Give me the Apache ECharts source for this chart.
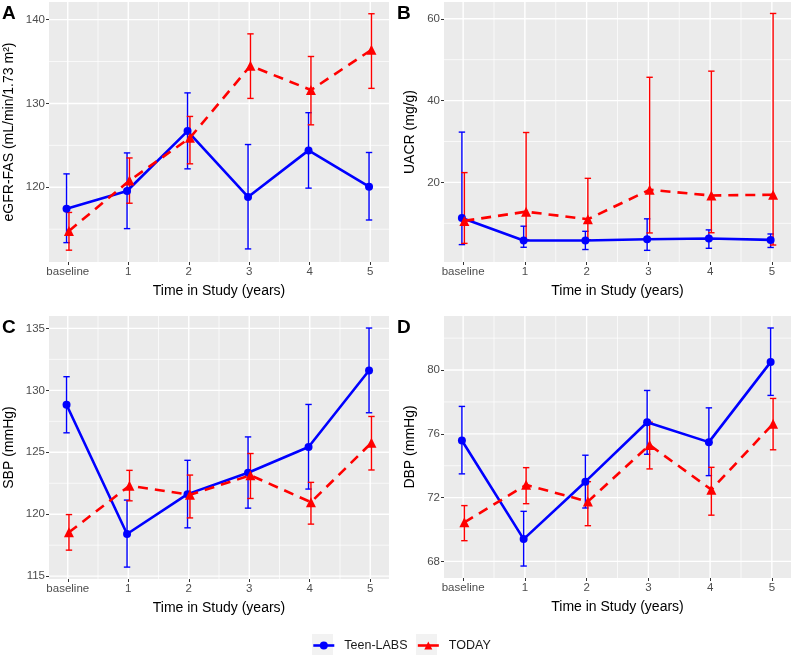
<!DOCTYPE html>
<html>
<head>
<meta charset="utf-8">
<script src="https://cdn.jsdelivr.net/npm/echarts@6/dist/echarts.min.js"></script>
<style>
html,body{margin:0;padding:0;background:#fff;}
#chart{width:793px;height:658px;}
</style>
</head>
<body>
<div id="chart"></div>
<script>
// ---------- data ----------
const timepoints = [0, 1, 2, 3, 4, 5];
const tickLabels = ['baseline', '1', '2', '3', '4', '5'];
const minorX = [0.5, 1.5, 2.5, 3.5, 4.5];
const groupNames = ['Teen-LABS', 'TODAY'];

// A: eGFR-FAS
const egfrTeenMean = [117.45, 119.56, 126.7, 118.85, 124.4, 120.07];
const egfrTeenLow  = [113.4, 115.07, 122.2, 112.65, 119.9, 116.1];
const egfrTeenHigh = [121.6, 124.1, 131.26, 125.1, 128.9, 124.15];
const egfrTodayMean = [114.8, 120.8, 125.9, 134.5, 131.6, 136.4];
const egfrTodayLow  = [112.5, 118.1, 122.8, 130.6, 127.45, 131.8];
const egfrTodayHigh = [117.0, 123.5, 128.45, 138.3, 135.6, 140.7];
const egfrTicks = [120, 130, 140];
const egfrMinor = [115, 125, 135];

// B: UACR
const uacrTeenMean = [11.3, 5.8, 5.8, 6.1, 6.3, 5.95];
const uacrTeenLow  = [4.8, 4.15, 3.6, 3.4, 3.9, 4.1];
const uacrTeenHigh = [32.3, 9.3, 8.05, 11.1, 8.4, 7.4];
const uacrTodayMean = [10.6, 12.85, 11.0, 18.2, 16.8, 17.0];
const uacrTodayLow  = [5.1, 6.0, 6.0, 7.65, 7.7, 4.7];
const uacrTodayHigh = [22.4, 32.2, 21.0, 45.7, 47.2, 61.3];
const uacrTicks = [20, 40, 60];
const uacrMinor = [10, 30, 50];

// C: SBP
const sbpTeenMean = [128.84, 118.4, 121.62, 123.35, 125.43, 131.6];
const sbpTeenLow  = [126.57, 115.73, 118.9, 120.49, 122.03, 128.19];
const sbpTeenHigh = [131.1, 121.14, 124.35, 126.24, 128.86, 135.03];
const sbpTodayMean = [118.54, 122.3, 121.57, 123.14, 120.97, 125.76];
const sbpTodayLow  = [117.1, 121.08, 119.7, 121.27, 119.2, 123.57];
const sbpTodayHigh = [119.97, 123.54, 123.16, 124.9, 122.57, 127.89];
const sbpTicks = [115, 120, 125, 130, 135];
const sbpMinor = [117.5, 122.5, 127.5, 132.5];

// D: DBP
const dbpTeenMean = [75.58, 69.4, 73.0, 76.73, 75.48, 80.5];
const dbpTeenLow  = [73.49, 67.71, 71.35, 74.72, 73.38, 78.41];
const dbpTeenHigh = [77.72, 71.14, 74.66, 78.72, 77.63, 82.64];
const dbpTodayMean = [70.45, 72.8, 71.75, 75.3, 72.5, 76.63];
const dbpTodayLow  = [69.3, 71.62, 70.24, 73.8, 70.9, 75.0];
const dbpTodayHigh = [71.5, 73.88, 73.0, 76.73, 73.9, 78.22];
const dbpTicks = [68, 72, 76, 80];
const dbpMinor = [70, 74, 78, 82];

// ---------- layout / style ----------
const BLUE = '#0000FF', RED = '#FF0000';
const FONT = '"Liberation Sans", Arial, sans-serif';
const DODGE = 0.02;
const panels = [
  {letter:'A', title:'eGFR-FAS (mL/min/1.73 m²)', grid:{left:49, top:2, width:340, height:260},
   ymin:111.09, ymax:142.1, ticks:egfrTicks, minor:egfrMinor, nameGap:33,
   teen:[egfrTeenMean, egfrTeenLow, egfrTeenHigh], today:[egfrTodayMean, egfrTodayLow, egfrTodayHigh]},
  {letter:'B', title:'UACR (mg/g)', grid:{left:444, top:2, width:347, height:260},
   ymin:0.55, ymax:64.1, ticks:uacrTicks, minor:uacrMinor, nameGap:27,
   teen:[uacrTeenMean, uacrTeenLow, uacrTeenHigh], today:[uacrTodayMean, uacrTodayLow, uacrTodayHigh]},
  {letter:'C', title:'SBP (mmHg)', grid:{left:49, top:316, width:340, height:263},
   ymin:114.77, ymax:136.0, ticks:sbpTicks, minor:sbpMinor, nameGap:33,
   teen:[sbpTeenMean, sbpTeenLow, sbpTeenHigh], today:[sbpTodayMean, sbpTodayLow, sbpTodayHigh]},
  {letter:'D', title:'DBP (mmHg)', grid:{left:444, top:316, width:347, height:262},
   ymin:66.96, ymax:83.39, ticks:dbpTicks, minor:dbpMinor, nameGap:27,
   teen:[dbpTeenMean, dbpTeenLow, dbpTeenHigh], today:[dbpTodayMean, dbpTodayLow, dbpTodayHigh]}
];

const grids = [], xAxes = [], yAxes = [], series = [], graphics = [];

function gridRender(vertical){
  return function(params, api){
    const cs = params.coordSys;
    const v = api.value(0);
    const major = api.value(1) === 1;
    const style = {stroke:'#FFFFFF', lineWidth: major ? 1.4 : 0.7};
    if (vertical){
      const p = api.coord([v, 0]);
      return {type:'line', shape:{x1:p[0], y1:cs.y, x2:p[0], y2:cs.y+cs.height}, style};
    } else {
      const p = api.coord([0, v]);
      return {type:'line', shape:{x1:cs.x, y1:p[1], x2:cs.x+cs.width, y2:p[1]}, style};
    }
  };
}
function ebRender(color){
  return function(params, api){
    const x = api.value(0), lo = api.value(1), hi = api.value(2);
    const a = api.coord([x, lo]), b = api.coord([x, hi]);
    const hw = 3.2;
    const st = {stroke:color, lineWidth:1.4};
    return {type:'group', children:[
      {type:'line', shape:{x1:a[0], y1:a[1], x2:b[0], y2:b[1]}, style:st},
      {type:'line', shape:{x1:a[0]-hw, y1:a[1], x2:a[0]+hw, y2:a[1]}, style:st},
      {type:'line', shape:{x1:b[0]-hw, y1:b[1], x2:b[0]+hw, y2:b[1]}, style:st}
    ]};
  };
}

panels.forEach((p, i) => {
  grids.push(Object.assign({show:true, backgroundColor:'#EBEBEB', borderWidth:0}, p.grid));
  xAxes.push({
    type:'value', gridIndex:i, min:-0.31, max:5.31, position:'bottom',
    name:'Time in Study (years)', nameLocation:'middle', nameGap:22,
    nameTextStyle:{fontSize:14, color:'#000', fontFamily:FONT},
    axisLine:{show:false, onZero:false},
    axisTick:{show:true, length:3, lineStyle:{color:'#333'}, customValues:timepoints},
    axisLabel:{show:true, fontSize:11.5, color:'#4D4D4D', fontFamily:FONT, margin:4,
      customValues:timepoints, formatter:v => tickLabels[timepoints.indexOf(v)]},
    splitLine:{show:false}
  });
  yAxes.push({
    type:'value', gridIndex:i, min:p.ymin, max:p.ymax, position:'left',
    name:p.title, nameLocation:'middle', nameGap:p.nameGap,
    nameTextStyle:{fontSize:14, color:'#000', fontFamily:FONT},
    axisLine:{show:false, onZero:false},
    axisTick:{show:true, length:3, lineStyle:{color:'#333'}, customValues:p.ticks},
    axisLabel:{show:true, fontSize:11.5, color:'#4D4D4D', fontFamily:FONT, margin:4,
      customValues:p.ticks, formatter:v => String(v)},
    splitLine:{show:false}
  });
  // gridlines
  series.push({type:'custom', xAxisIndex:i, yAxisIndex:i, z:1, silent:true,
    renderItem:gridRender(true),
    data: timepoints.map(v => [v, 1]).concat(minorX.map(v => [v, 0])),
    encode:{x:0}});
  series.push({type:'custom', xAxisIndex:i, yAxisIndex:i, z:1, silent:true,
    renderItem:gridRender(false),
    data: p.ticks.map(v => [v, 1]).concat(p.minor.map(v => [v, 0])),
    encode:{y:0}});
  // error bars
  [[p.teen, BLUE, -DODGE], [p.today, RED, DODGE]].forEach(([d, c, dx]) => {
    series.push({type:'custom', xAxisIndex:i, yAxisIndex:i, z:3, silent:true,
      renderItem:ebRender(c),
      data: timepoints.map((t, k) => [t + dx, d[1][k], d[2][k]]),
      encode:{x:0, y:[1, 2]}});
  });
  // lines + points
  series.push({type:'line', name:groupNames[0], xAxisIndex:i, yAxisIndex:i, z:4,
    data: timepoints.map((t, k) => [t - DODGE, p.teen[0][k]]),
    symbol:'circle', symbolSize:8, itemStyle:{color:BLUE},
    lineStyle:{color:BLUE, width:2.6}, showAllSymbol:true});
  series.push({type:'line', name:groupNames[1], xAxisIndex:i, yAxisIndex:i, z:5,
    data: timepoints.map((t, k) => [t + DODGE, p.today[0][k]]),
    symbol:'triangle', symbolSize:10, itemStyle:{color:RED},
    lineStyle:{color:RED, width:2.6, type:[10, 7]}, showAllSymbol:true});
  graphics.push({type:'text', left: p.grid.left - 47, top: p.grid.top + 2,
    style:{text:p.letter, font:'bold 19px ' + FONT, fill:'#000'}});
});

// legend key backgrounds
graphics.push({type:'rect', shape:{x:312, y:634, width:21, height:21}, style:{fill:'#F2F2F2'}, z:0});
graphics.push({type:'rect', shape:{x:416, y:634, width:21, height:21}, style:{fill:'#F2F2F2'}, z:0});

const chart = echarts.init(document.getElementById('chart'), null, {renderer:'canvas'});
chart.setOption({
  animation:false,
  backgroundColor:'#FFFFFF',
  textStyle:{fontFamily:FONT},
  grid:grids, xAxis:xAxes, yAxis:yAxes, series:series,
  graphic:graphics,
  legend:{data:groupNames, left:312, top:639, padding:0, itemWidth:21, itemHeight:10, itemGap:9,
    textStyle:{fontSize:12.5, color:'#1a1a1a', fontFamily:FONT, padding:[0,0,0,5]},
    lineStyle:{type:'solid', width:2.6}, selectedMode:false}
});
</script>
</body>
</html>
